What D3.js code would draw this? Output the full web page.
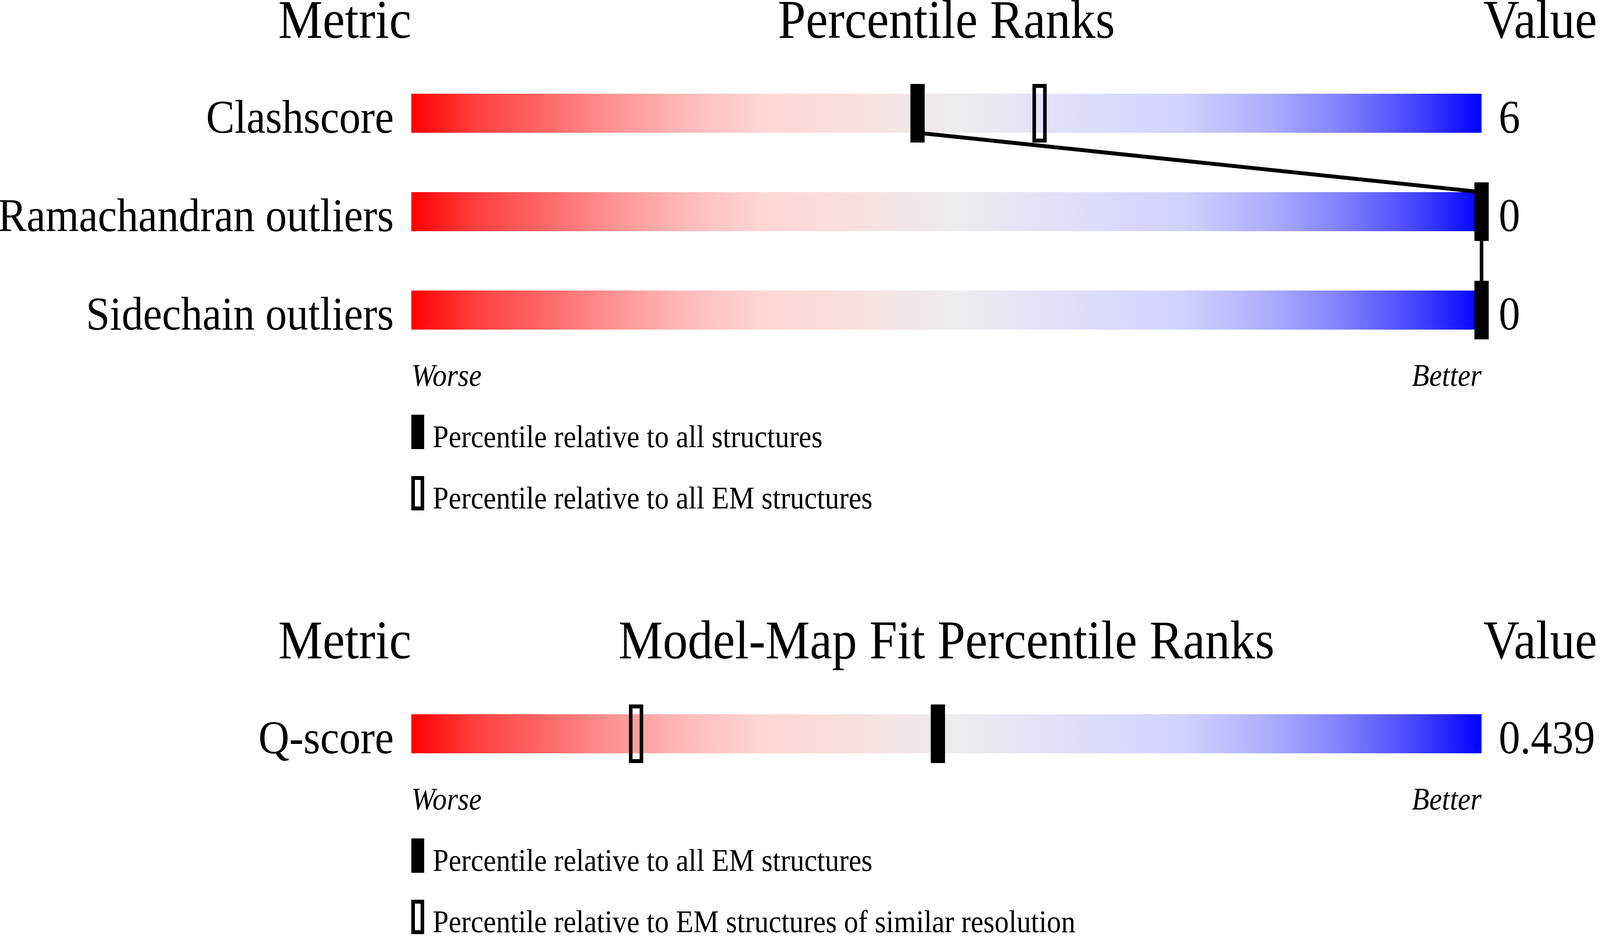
<!DOCTYPE html>
<html>
<head>
<meta charset="utf-8">
<script src="https://cdn.jsdelivr.net/npm/d3@7"></script>
<style>
  html, body { margin: 0; padding: 0; background: #fff; overflow: hidden; }
  svg { display: block; }
  text { font-family: "Liberation Serif", "Times New Roman", serif; fill: #000; }
</style>
</head>
<body>
<svg id="chart"></svg>
<script>
// geometry panel
var headers1 = ["Metric", "Percentile Ranks", "Value"];
var metrics1 = ["Clashscore", "Ramachandran outliers", "Sidechain outliers"];
var values1 = ["6", "0", "0"];
var pctAll1 = [47.3, 100, 100];      // filled marker
var pctEM1 = [58.7, null, null];     // open marker
var legend1 = ["Percentile relative to all structures", "Percentile relative to all EM structures"];

// model-map fit panel
var headers2 = ["Metric", "Model-Map Fit Percentile Ranks", "Value"];
var metrics2 = ["Q-score"];
var values2 = ["0.439"];
var pctAll2 = [49.2];
var pctEM2 = [21.0];
var legend2 = ["Percentile relative to all EM structures", "Percentile relative to EM structures of similar resolution"];

var ends = ["Worse", "Better"];

var W = 4485, H = 2402;
// draw in a fixed 4485x2402 frame, stretched over the whole window
var svg = d3.select("#chart")
	.attr("width", window.innerWidth || W)
	.attr("height", window.innerHeight || H)
	.attr("viewBox", "0 0 " + W + " " + H)
	.attr("preserveAspectRatio", "none");

// red -> grey -> blue slider colours
var gradStops = [
	[0, "#ff0000"], [0.06, "#ff4040"], [0.12, "#ff6464"], [0.19, "#ff9494"],
	[0.26, "#ffbcbc"], [0.33, "#ffd6d6"], [0.40, "#fbdede"], [0.46, "#f2e6e6"],
	[0.51, "#ededed"], [0.57, "#e5e5f5"], [0.64, "#dcdcfc"], [0.72, "#d2d2ff"],
	[0.80, "#aeaeff"], [0.87, "#8080ff"], [0.94, "#4444ff"], [1, "#0000ff"]
];
var grad = svg.append("defs").append("linearGradient")
	.attr("id", "slider")
	.attr("x1", 0).attr("x2", 1).attr("y1", 0).attr("y2", 0);
grad.selectAll("stop").data(gradStops).enter().append("stop")
	.attr("offset", function(d){ return d[0]; })
	.attr("stop-color", function(d){ return d[1]; });

var x = d3.scaleLinear().domain([0, 100]).range([1153, 4153]);

var barH = 100, markW = 40, markOver = 25, rowStep = 252;

function drawPanel(top, headers, metrics, values, pctAll, pctEM, legend) {
	var g = svg.append("g");
	var headY = top, barTop0 = top + 143;

	g.append("text").attr("x", x(0)).attr("y", headY).attr("text-anchor", "end")
		.style("font-size", "140px").text(headers[0]);
	g.append("text").attr("x", (x(0) + x(100)) / 2).attr("y", headY).attr("text-anchor", "middle")
		.style("font-size", "140px").text(headers[1]);
	g.append("text").attr("x", x(100) + 5).attr("y", headY)
		.style("font-size", "140px").text(headers[2]);

	var y = function(i){ return barTop0 + i * rowStep; };

	g.selectAll("rect.bar").data(metrics).enter().append("rect")
		.attr("class", "bar")
		.attr("x", x(0)).attr("y", function(d, i){ return y(i); })
		.attr("width", x(100) - x(0)).attr("height", barH)
		.attr("fill", "url(#slider)");

	g.selectAll("text.metric").data(metrics).enter().append("text")
		.attr("class", "metric")
		.attr("x", x(0) - 49).attr("y", function(d, i){ return y(i) + barH; })
		.attr("text-anchor", "end").style("font-size", "120px")
		.text(function(d){ return d; });

	g.selectAll("text.value").data(values).enter().append("text")
		.attr("class", "value")
		.attr("x", x(100) + 48).attr("y", function(d, i){ return y(i) + barH; })
		.style("font-size", "120px")
		.text(function(d){ return d; });

	// connector between the filled markers
	for (var i = 0; i < pctAll.length - 1; i++) {
		g.append("line")
			.attr("x1", x(pctAll[i])).attr("y1", y(i) + barH)
			.attr("x2", x(pctAll[i + 1])).attr("y2", y(i + 1))
			.attr("stroke", "#000").attr("stroke-width", 10);
	}

	g.selectAll("rect.open").data(pctEM).enter()
		.filter(function(d){ return d != null; })
		.append("rect")
		.attr("class", "open")
		.attr("x", function(d){ return x(d) - markW / 2 + 5; })
		.attr("y", function(d){ return y(pctEM.indexOf(d)) - markOver + 5; })
		.attr("width", markW - 10).attr("height", barH + 2 * markOver - 10)
		.attr("fill", "none").attr("stroke", "#000").attr("stroke-width", 10);

	g.selectAll("rect.filled").data(pctAll).enter().append("rect")
		.attr("class", "filled")
		.attr("x", function(d){ return x(d) - markW / 2; })
		.attr("y", function(d, i){ return y(i) - markOver; })
		.attr("width", markW).attr("height", barH + 2 * markOver)
		.attr("fill", "#000");

	var endY = y(metrics.length - 1) + barH + 144;
	g.append("text").attr("x", x(0)).attr("y", endY)
		.style("font-size", "80px").style("font-style", "italic").text(ends[0]);
	g.append("text").attr("x", x(100)).attr("y", endY).attr("text-anchor", "end")
		.style("font-size", "80px").style("font-style", "italic").text(ends[1]);

	var legTop = endY + 74, legStep = 157, legH = 88, legW = 36;
	legend.forEach(function(t, k){
		var ly = legTop + k * legStep;
		if (k === 0) {
			g.append("rect").attr("x", x(0)).attr("y", ly).attr("width", legW).attr("height", legH)
				.attr("fill", "#000");
		} else {
			g.append("rect").attr("x", x(0) + 5).attr("y", ly + 5).attr("width", legW - 10).attr("height", legH - 10)
				.attr("fill", "none").attr("stroke", "#000").attr("stroke-width", 10);
		}
		g.append("text").attr("x", x(0) + 60).attr("y", ly + legH - 5)
			.style("font-size", "80px").text(t);
	});
}

drawPanel(97, headers1, metrics1, values1, pctAll1, pctEM1, legend1);
drawPanel(1686, headers2, metrics2, values2, pctAll2, pctEM2, legend2);
</script>
</body>
</html>
